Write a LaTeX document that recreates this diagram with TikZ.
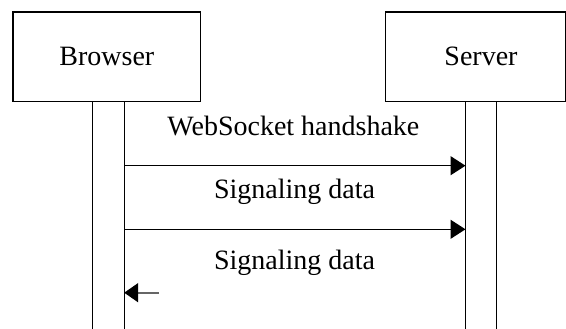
\documentclass[tikz,border=0pt]{standalone}
\usepackage{fontspec}
\setmainfont{Liberation Serif}
\usetikzlibrary{arrows.meta}
\begin{document}
\begin{tikzpicture}[x=1pt,y=-1pt,
  actor/.style={draw=black,line width=1.1pt,rectangle,inner sep=0pt,
    minimum width=#1,minimum height=89.7pt,font=\fontsize{28}{34}\selectfont},
  bar/.style={draw=black,line width=1.1pt},
  msg/.style={draw=black,line width=1.3pt,-{Triangle[length=15pt,width=19pt]}},
  retmsg/.style={draw=black!60,line width=1.8pt,-{Triangle[length=14pt,width=19pt,color=black]}},
  lbl/.style={anchor=base,inner sep=0pt,font=\fontsize{28}{34}\selectfont}]
\useasboundingbox (0,0) rectangle (566,329);
% actors
\node[actor=187.7pt] (browser) at (106.85,56.85) {Browser};
\node[actor=179.8pt] (server) at (475.6,56.85) {};
\node[lbl] (servertxt) at (481,65.5) {Server};
% lifeline bars
\coordinate (bTL) at (92.3,101.7);
\coordinate (bTR) at (124.2,101.7);
\coordinate (bBL) at (92.3,329);
\coordinate (bBR) at (124.2,329);
\coordinate (sTL) at (465.5,101.7);
\coordinate (sTR) at (496.6,101.7);
\coordinate (sBL) at (465.5,329);
\coordinate (sBR) at (496.6,329);
\draw[bar] (bBL) -- (bTL) -- (bTR) -- (bBR);
\draw[bar] (sBL) -- (sTL) -- (sTR) -- (sBR);
% messages
\coordinate (b1) at (124.2,165.7);
\coordinate (s1) at (465.5,165.7);
\coordinate (b2) at (124.2,229.3);
\coordinate (s2) at (465.5,229.3);
\coordinate (r0) at (159,292.7);
\coordinate (r1) at (124.2,292.7);
\draw[msg] (b1) -- (s1);
\draw[msg] (b2) -- (s2);
\draw[retmsg] (r0) -- (r1);
% labels
\node[lbl] (l1) at (293.4,135.7) {WebSocket handshake};
\node[lbl] (l2) at (294.5,198.3) {Signaling data};
\node[lbl] (l3) at (294.5,269.3) {Signaling data};
\end{tikzpicture}
\end{document}
